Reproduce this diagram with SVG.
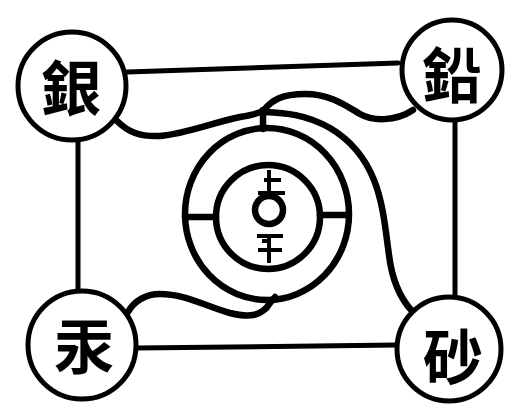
<svg xmlns="http://www.w3.org/2000/svg" width="512" height="414" viewBox="0 0 512 414">
<style>
.ln{fill:none;stroke:#000;stroke-width:5;stroke-linecap:round;stroke-linejoin:round}
.cv{fill:none;stroke:#000;stroke-width:6.5;stroke-linecap:round;stroke-linejoin:round}
.node{fill:#fff;stroke:#000;stroke-width:5}
.sym{fill:none;stroke:#000;stroke-width:4;stroke-linecap:butt}
.lbl{font-family:"Noto Sans CJK TC","Noto Sans CJK SC",sans-serif;font-size:60px;font-weight:600;fill:#000;text-anchor:middle;dominant-baseline:central}
</style>
<rect width="512" height="414" fill="#fff"/>
<g id="connectors">
<path class="ln" d="M127,72 L398,63"/>
<path class="ln" d="M78,140 L78,290"/>
<path class="ln" d="M455,120 L455,296"/>
<path class="ln" d="M137,348 L397,345"/>
<path class="cv" d="M117,121 C128,132 140,137 160,136 C185,134 215,122 240,117 C252,115 260,113 264,110 C272,100 282,94 305,94 C330,94 345,105 360,114 C372,121 395,122 413,110"/>
<path class="cv" d="M264,112 C285,113 305,114 330,128 C352,141 366,160 374,180 C384,205 386,235 389,255 C392,280 400,298 412,311"/>
<path class="cv" d="M128,312 C134,301 146,294 160,294 C185,294 205,306 230,313 C250,318 262,316 270,303 L275,297"/>
</g>
<g id="center">
<ellipse class="cv" cx="267" cy="214" rx="82" ry="86"/>
<circle class="cv" cx="268" cy="217" r="52"/>
<line class="cv" x1="263" y1="110" x2="263" y2="129"/>
<line class="cv" x1="185" y1="217" x2="216" y2="217"/>
<line class="cv" x1="320" y1="215" x2="348" y2="215"/>
<circle class="cv" cx="269" cy="210" r="14" stroke-width="7"/>
<line class="sym" x1="269" y1="170" x2="269" y2="194"/>
<line class="sym" x1="264" y1="180" x2="281" y2="180"/>
<line class="sym" x1="258" y1="193" x2="285" y2="193"/>
<line class="sym" x1="257" y1="236" x2="283" y2="236"/>
<line class="sym" x1="262" y1="241" x2="268" y2="241"/>
<line class="sym" x1="258" y1="250" x2="282" y2="250"/>
<line class="sym" x1="269" y1="236" x2="269" y2="263"/>
</g>
<g id="silver"><circle class="node" cx="72" cy="86" r="54"/><text class="lbl" x="71" y="84">銀</text></g>
<g id="lead"><circle class="node" cx="452" cy="70" r="50"/><text class="lbl" x="452" y="71">鉛</text></g>
<g id="mercury"><circle class="node" cx="82" cy="345" r="54"/><text class="lbl" x="84" y="342">汞</text></g>
<g id="cinnabar"><circle class="node" cx="449" cy="349" r="52"/><text class="lbl" x="453" y="353">砂</text></g>
</svg>
